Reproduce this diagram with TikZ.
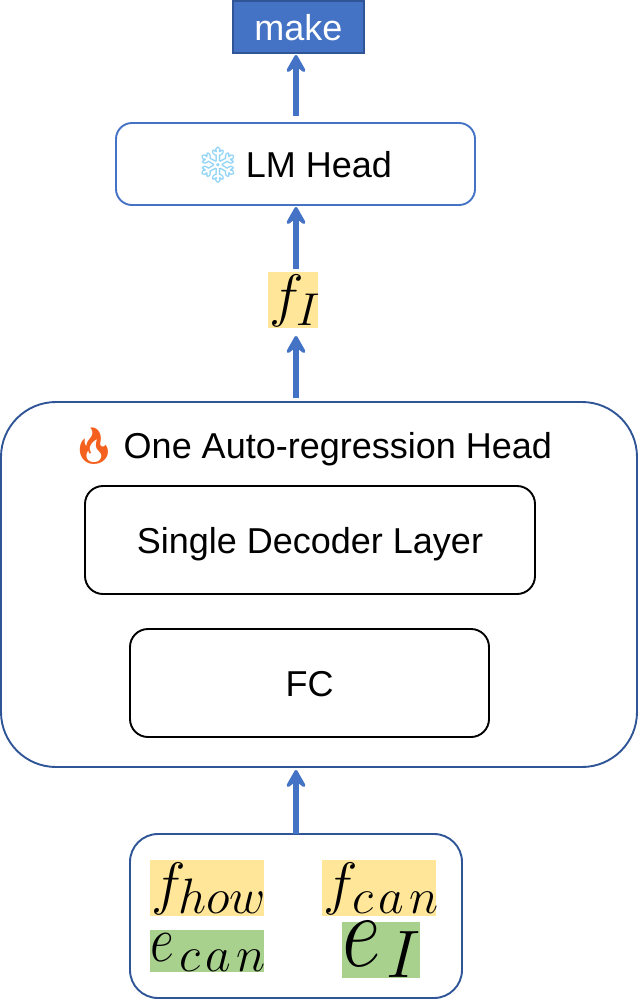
\documentclass[tikz,border=0pt]{standalone}
\usepackage{fontspec}
\setmainfont{Liberation Sans}
\newfontfamily\emojifont{Noto Emoji}
\usetikzlibrary{arrows.meta}
\definecolor{accent}{HTML}{4472C4}
\definecolor{darkaccent}{HTML}{2F5597}
\definecolor{hlyellow}{HTML}{FFE699}
\definecolor{hlgreen}{HTML}{A9D18E}
\definecolor{iceblue}{HTML}{8FD3F5}
\definecolor{fireorange}{HTML}{F4601E}
\tikzset{
  x=1pt,y=-1pt,
  every node/.style={outer sep=0pt,inner sep=0pt,font=\fontsize{36}{42}\selectfont},
  boxbase/.style={draw,rounded corners=#1,line width=1.9pt},
  flow/.style={draw=accent,line width=5.5pt,-{Stealth[length=23pt,width=26pt,inset=10pt,round,line width=4pt]}},
  yellowmark/.style={fill=hlyellow},
  greenmark/.style={fill=hlgreen},
}
\newcommand{\cen}[1]{\raisebox{-13pt}[0pt][0pt]{#1}}
% base letter: x offset, raise, x scale, y scale, letter; subscript: x offset, raise, scale, text
\newcommand{\pairmath}[9]{\makebox[0pt][l]{\hspace{#1}\raisebox{#2}[0pt][0pt]{\scalebox{#3}[#4]{$#5$}}}\pairsub{#6}{#7}{#8}{#9}}
\newcommand{\pairsub}[4]{\makebox[0pt][l]{\hspace{#1}\raisebox{#2}[0pt][0pt]{\scalebox{#3}{$\scriptstyle #4$}}}}
\begin{document}
\begin{tikzpicture}
\useasboundingbox (0,0) rectangle (640,1002);
\node[draw=darkaccent,fill=accent,line width=1.9pt,minimum width=131pt,minimum height=52pt,text=white] (make) at (298.5,27) {\cen{make}};
\node[boxbase=16pt,draw=accent,minimum width=359pt,minimum height=82pt] (lm) at (295.5,164) {\cen{{\emojifont\textcolor{iceblue}{\symbol{"2744}}}\hspace{-5pt} LM Head\hspace{4pt}}};
\node[yellowmark,minimum width=50pt,minimum height=56pt] (fI) at (293,300) {\pairmath{-24pt}{-15pt}{2.35}{2.35}{f}{3pt}{-25pt}{1.85}{I}};
\node[boxbase=55pt,draw=darkaccent,minimum width=636pt,minimum height=365pt] (auto) at (319,584.5) {};
\node (title) at (311.5,445) {\cen{{\emojifont\textcolor{fireorange}{\symbol{"1F525}}}\hspace{-3pt} One Auto-regression Head}};
\node[boxbase=18pt,draw=black,minimum width=450pt,minimum height=108pt] (dec) at (310,540) {\cen{Single Decoder Layer}};
\node[boxbase=18pt,draw=black,minimum width=359pt,minimum height=108pt] (fc) at (309.5,683) {\cen{FC}};
\node[boxbase=28pt,draw=darkaccent,minimum width=332pt,minimum height=164pt] (input) at (296,916) {};
\node[yellowmark,minimum width=114pt,minimum height=56pt] (fhow) at (207,888) {\pairmath{-56pt}{-15pt}{2.35}{2.35}{f}{-29pt}{-25pt}{2}{how}};
\node[yellowmark,minimum width=114pt,minimum height=56pt] (fcan) at (379,888) {\pairmath{-56pt}{-15pt}{2.35}{2.35}{f}{-27pt}{-25pt}{2}{c\mkern2mu a\mkern2mu n}};
\node[greenmark,minimum width=114pt,minimum height=42pt] (ecan) at (207,951) {\pairmath{-57pt}{-10pt}{2.1}{2.6}{e}{-28pt}{-20pt}{2}{c\mkern2mu a\mkern2mu n}};
\node[greenmark,minimum width=78pt,minimum height=56pt] (eI) at (381,950) {\pairmath{-39pt}{-16pt}{3.4}{4.2}{e}{5pt}{-27pt}{2.7}{I}};
\draw[flow,shorten >=3pt] (input.north) -- (input.north |- auto.south);
\draw[flow,shorten <=4pt,shorten >=8pt] (input.north |- auto.north) -- (input.north |- fI.south);
\draw[flow,shorten <=3pt,shorten >=2pt] (input.north |- fI.north) -- (input.north |- lm.south);
\draw[flow,shorten <=7pt,shorten >=2pt] (input.north |- lm.north) -- (input.north |- make.south);
\end{tikzpicture}
\end{document}
